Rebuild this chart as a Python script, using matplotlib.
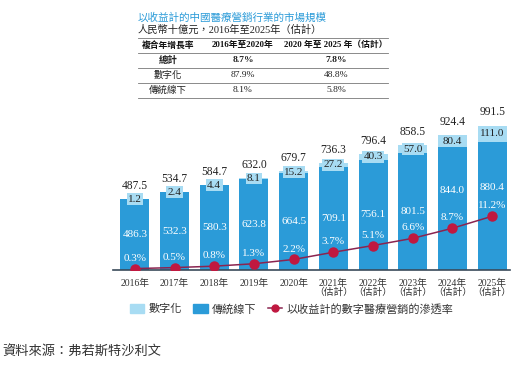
import matplotlib
matplotlib.use("Agg")
import matplotlib.pyplot as plt
from matplotlib.lines import Line2D
from matplotlib.patches import Patch

# data
years = ["2016年", "2017年", "2018年", "2019年", "2020年",
         "2021年\n（估計）", "2022年\n（估計）", "2023年\n（估計）",
         "2024年\n（估計）", "2025年\n（估計）"]
offline = [486.3, 532.3, 580.3, 623.8, 664.5, 709.1, 756.1, 801.5, 844.0, 880.4]
digital = [1.2, 2.4, 4.4, 8.1, 15.2, 27.2, 40.3, 57.0, 80.4, 111.0]
totals = [487.5, 534.7, 584.7, 632.0, 679.7, 736.3, 796.4, 858.5, 924.4, 991.5]
penetration = [0.3, 0.5, 0.8, 1.3, 2.2, 3.7, 5.1, 6.6, 8.7, 11.2]

cagr_header = ["複合年增長率", "2016年至2020年", "2020 年至 2025 年（估計）"]
cagr_rows = [["總計", "8.7%", "7.8%"],
             ["數字化", "87.9%", "48.8%"],
             ["傳統線下", "8.1%", "5.8%"]]

DARK = "#2b9bd8"
LIGHT = "#a8dcf3"
LINE = "#8a2450"
DOT = "#c01840"
CJK = ["Noto Sans CJK TC", "DejaVu Sans"]
SER = ["Liberation Serif", "Noto Sans CJK TC"]

plt.rcParams["font.family"] = CJK

fig = plt.figure(figsize=(5.27, 3.75), dpi=100)
W, H = 527.0, 375.0

ax = fig.add_axes([113 / W, (H - 270) / H, 397 / W, 153 / H])
x = list(range(len(years)))
bw = 0.73
ax.bar(x, offline, width=bw, color=DARK, zorder=2)
ax.bar(x, digital, width=bw, bottom=offline, color=LIGHT, zorder=2)
ax.set_xlim(-0.55, 9.45)
ax.set_ylim(0, 1050)
for s in ["top", "right", "left"]:
    ax.spines[s].set_visible(False)
ax.spines["bottom"].set_color("#3a4a5a")
ax.spines["bottom"].set_linewidth(1.2)
ax.set_yticks([])
ax.set_xticks(x)
ax.set_xticklabels(years, family=SER, fontsize=7, color="#333333", linespacing=0.95)
ax.tick_params(axis="x", length=0, pad=6)

# nudge offline labels that would hit the percentage labels
lift = {8: 125, 9: 125}
for i in x:
    ax.text(i, offline[i] / 2 + lift.get(i, 0), f"{offline[i]:.1f}", ha="center",
            va="center", color="white", family=SER, fontsize=8, zorder=4)
    ax.text(i, offline[i] + digital[i] / 2, f"{digital[i]:.1f}", ha="center",
            va="center", color="#222222", family=SER, fontsize=8, zorder=4,
            bbox=dict(boxstyle="square,pad=0.12", fc=LIGHT, ec="none"))
    ax.annotate(f"{totals[i]:.1f}", (i, totals[i]), xytext=(0, 9.5),
                textcoords="offset points", ha="center", va="center",
                family=SER, fontsize=8.3, color="#222222")

ax2 = ax.twinx()
ax2.set_ylim(0, 153 / 4.8)
ax2.axis("off")
ax2.plot(x, penetration, color=LINE, lw=1.1, marker="o", ms=6.5,
         mfc=DOT, mec=DOT, zorder=5)
for i in x:
    ax2.annotate(f"{penetration[i]}%", (i, penetration[i]), xytext=(0, 7.5),
                 textcoords="offset points", ha="center", va="center",
                 color="white", family=SER, fontsize=8, zorder=6)

# title + CAGR table
fig.text(138 / W, 1 - 18 / H, "以收益計的中國醫療營銷行業的市場規模",
         color=DARK, fontsize=7.6, va="center", ha="left")
fig.text(138 / W, 1 - 30 / H, "人民幣十億元，2016年至2025年（估計）",
         color="#222222", fontsize=7.4, va="center", ha="left", family=SER)
cols = [168, 243, 336]
row_y = [45, 60, 75, 90]
for yl in [38, 53, 68, 83, 98]:
    fig.add_artist(Line2D([138 / W, 388 / W], [1 - yl / H] * 2,
                          color="#777777", lw=0.6))
for c, t in zip(cols, cagr_header):
    fig.text(c / W, 1 - row_y[0] / H, t, ha="center", va="center",
             fontsize=6.3, weight="bold", family=SER, color="#111111")
for r, row in enumerate(cagr_rows):
    for c, t in zip(cols, row):
        fig.text(c / W, 1 - row_y[r + 1] / H, t, ha="center", va="center",
                 fontsize=6.8, family=SER, color="#222222",
                 weight="bold" if r == 0 else "normal")

# legend
handles = [Patch(color=LIGHT), Patch(color=DARK),
           Line2D([], [], color=LINE, lw=1.1, marker="o", ms=5, mfc=DOT, mec=DOT)]
labels = ["數字化", "傳統線下", "以收益計的數字醫療營銷的滲透率"]
fig.legend(handles, labels, loc="center left", bbox_to_anchor=(120 / W, 1 - 309 / H),
           ncol=3, frameon=False, fontsize=8, handlelength=1.3, handleheight=0.9,
           handletextpad=0.4, columnspacing=1.0, labelcolor="#333333")

fig.text(2 / W, 1 - 352 / H, "資料來源：弗若斯特沙利文", fontsize=9.5,
         color="#333333", va="center", ha="left")

fig.savefig("out.png", dpi=100)
